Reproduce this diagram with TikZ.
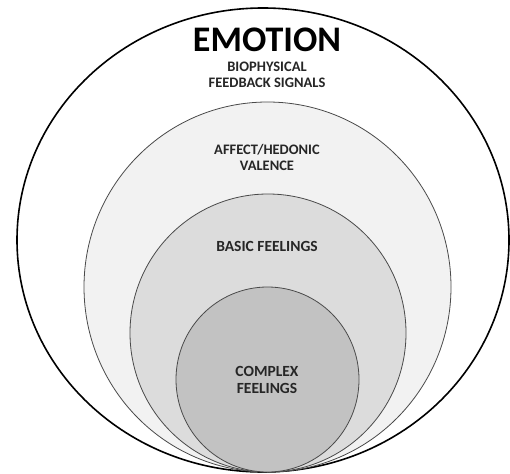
\documentclass[tikz,border=0pt]{standalone}
\usepackage{fontspec}
\setmainfont{Carlito}
\usetikzlibrary{shapes.geometric}
\definecolor{rim}{HTML}{000000}
\definecolor{edge}{HTML}{4A4A4A}
\definecolor{shadeA}{HTML}{F2F2F2}
\definecolor{shadeB}{HTML}{DCDCDC}
\definecolor{shadeC}{HTML}{C2C2C2}
\tikzset{
  ring/.style   ={ellipse, draw=edge, line width=.8pt, inner sep=0pt, outer sep=0pt},
  lbl/.style    ={font=\fontsize{14.5}{16}\selectfont\bfseries, text=black!85, align=center, inner sep=0pt},
  lblb/.style   ={lbl, font=\fontsize{15.5}{17}\selectfont\bfseries},
  title/.style  ={font=\fontsize{36}{38}\selectfont\bfseries, text=black, inner sep=0pt},
}
\begin{document}
\begin{tikzpicture}[x=1pt,y=-1pt]
  \useasboundingbox (0,0) rectangle (510,473);
  % nested rings, all touching at the bottom
  \node[ring,draw=rim,line width=1.6pt,fill=white,minimum width=492pt,minimum height=464pt] (emo) at (263,240) {};
  \node[ring,fill=shadeA,minimum width=367pt,minimum height=370pt] (aff) at (267.5,287) {};
  \node[ring,fill=shadeB,minimum width=276pt,minimum height=278pt] (bas) at (268,333) {};
  \node[ring,fill=shadeC,minimum width=183pt,minimum height=185pt] (cpx) at (267.5,379.5) {};

  \node[title] (emot) at (267,40) {EMOTION};
  \node[lbl] (bio) at (267,75) {BIOPHYSICAL\\FEEDBACK SIGNALS};
  \node[lbl] (hed) at (267,157) {AFFECT/HEDONIC\\VALENCE};
  \node[lblb] (bf) at (267,246) {BASIC FEELINGS};
  \node[lblb] (cf) at (267,380) {COMPLEX\\FEELINGS};
\end{tikzpicture}
\end{document}
